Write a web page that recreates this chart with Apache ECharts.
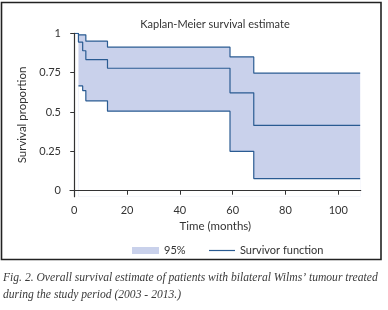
<!DOCTYPE html>
<html>
<head>
<meta charset="utf-8">
<script src="https://cdn.jsdelivr.net/npm/echarts@6/dist/echarts.min.js"></script>
<style>
  html, body { margin: 0; padding: 0; background: #fff; }
  #chart { width: 388px; height: 310px; }
</style>
</head>
<body>
<div id="chart"></div>
<script>
// Kaplan-Meier survivor function (months, proportion)
const times = [0, 1.6, 3.2, 4.4, 12.6, 59, 68, 108.3];
const survival = [1, 0.944, 0.889, 0.833, 0.778, 0.622, 0.415, 0.415];

// 95% confidence band, defined from the first event on
const ciTimes = [1.6, 3.2, 4.4, 12.6, 59, 68, 108.3];
const ciLower = [0.666, 0.636, 0.571, 0.505, 0.25, 0.077, 0.077];
const ciUpper = [0.99, 0.99, 0.95, 0.912, 0.85, 0.747, 0.747];

const xTicks = [0, 20, 40, 60, 80, 100];
const yTicks = [0, 0.25, 0.5, 0.75, 1];

const captionLines = [
  "Fig. 2. Overall survival estimate of patients with bilateral Wilms\u2019 tumour treated",
  "during the study period (2003 - 2013.)"
];

const lineColor = "#2a5b92";
const bandColor = "#c9d1eb";
const textColor = "#333";
const font = "Lato";

const lowerData = ciTimes.map((t, i) => [t, ciLower[i]]);
const upperData = ciTimes.map((t, i) => [t, ciUpper[i]]);
const survData = times.map((t, i) => [t, survival[i]]);

const chart = echarts.init(document.getElementById("chart"));
const option = {
  animation: false,
  title: {
    text: "Kaplan-Meier survival estimate",
    left: 215,
    textAlign: "center",
    top: 19,
    padding: 0,
    textStyle: { fontFamily: font, fontSize: 11, fontWeight: "normal", color: textColor },
  },
  grid: { left: 70, right: 27.3, top: 33.3, bottom: 113.3 },
  legend: [
    {
      left: 132,
      top: 245,
      padding: 0,
      itemWidth: 27,
      itemHeight: 7,
      textStyle: { fontFamily: font, fontSize: 11, color: textColor },
      data: [{ name: "95%", icon: "rect", itemStyle: { color: bandColor, borderWidth: 0 } }],
    },
    {
      left: 209,
      top: 245,
      padding: 0,
      itemWidth: 26,
      itemHeight: 1.2,
      textStyle: { fontFamily: font, fontSize: 11, color: textColor },
      data: [{ name: "Survivor function", icon: "rect", itemStyle: { color: lineColor, borderWidth: 0 } }],
    },
  ],
  xAxis: {
    type: "value",
    min: -1.6,
    max: 108.5,
    z: 10,
    name: "Time (months)",
    nameLocation: "middle",
    nameGap: 24,
    nameTextStyle: { fontFamily: font, fontSize: 11.5, color: textColor },
    splitLine: { show: false },
    axisLine: { lineStyle: { color: "#333", width: 1.2 } },
    axisTick: { show: true, length: 4, customValues: xTicks, lineStyle: { color: "#333" } },
    axisLabel: { customValues: xTicks, margin: 8, fontFamily: font, fontSize: 11, color: textColor },
  },
  yAxis: {
    type: "value",
    min: -0.038,
    max: 1,
    z: 10,
    name: "Survival proportion",
    nameLocation: "middle",
    nameRotate: 90,
    nameGap: 31,
    nameTextStyle: { fontFamily: font, fontSize: 11.5, color: textColor },
    splitLine: { show: false },
    axisLine: { show: true, lineStyle: { color: "#333", width: 1.2 } },
    axisTick: { show: true, length: 4, customValues: yTicks, lineStyle: { color: "#333" } },
    axisLabel: { customValues: yTicks, margin: 9, fontFamily: font, fontSize: 11, color: textColor },
  },
  series: [
    {
      // upper limit, filled down to the axis
      name: "95%",
      type: "line",
      step: "end",
      symbol: "none",
      z: 2,
      color: bandColor,
      lineStyle: { color: lineColor, width: 1.2 },
      areaStyle: { color: bandColor, opacity: 1, origin: "start" },
      data: upperData,
    },
    {
      // lower limit, white fill below it cuts the band out
      name: "lower",
      type: "line",
      step: "end",
      symbol: "none",
      z: 3,
      lineStyle: { color: lineColor, width: 1.2 },
      areaStyle: { color: "#fff", opacity: 1, origin: "start" },
      data: lowerData,
    },
    {
      name: "Survivor function",
      type: "line",
      step: "end",
      symbol: "none",
      z: 5,
      color: lineColor,
      lineStyle: { color: lineColor, width: 1.2 },
      data: survData,
    },
  ],
  graphic: [
    {
      type: "rect",
      shape: { x: 1.5, y: 2.5, width: 379.5, height: 257 },
      style: { fill: null, stroke: "#222", lineWidth: 1.6 },
    },
    {
      type: "text",
      left: 3,
      top: 269,
      style: {
        text: captionLines.join("\n"),
        font: "italic 11.6px 'Liberation Serif'",
        lineHeight: 17,
        fill: "#3a3a3a",
      },
    },
  ],
};
chart.setOption(option);
</script>
</body>
</html>
